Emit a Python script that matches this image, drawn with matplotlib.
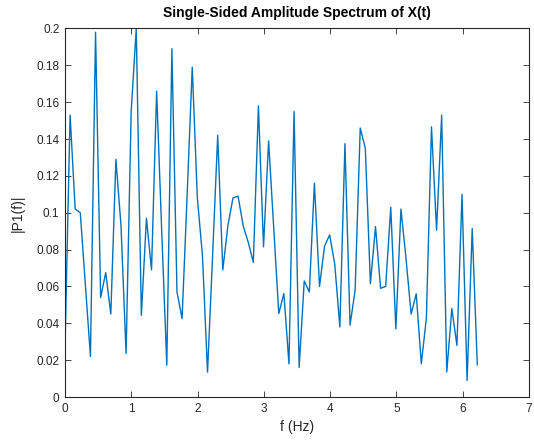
import numpy as np
import matplotlib
matplotlib.use("Agg")
import matplotlib.pyplot as plt

plt.rcParams['font.family'] = ['Liberation Sans', 'DejaVu Sans']

# Single-sided amplitude spectrum values |P1(f)|
P1 = [0.027, 0.153, 0.102, 0.100, 0.061, 0.022, 0.198, 0.054, 0.0675, 0.045,
      0.129, 0.093, 0.0236, 0.155, 0.200, 0.0443, 0.097, 0.069, 0.166, 0.090,
      0.0173, 0.189, 0.057, 0.0425, 0.110, 0.179, 0.108, 0.077, 0.0135, 0.077,
      0.142, 0.069, 0.093, 0.108, 0.109, 0.093, 0.084, 0.073, 0.158, 0.0815,
      0.139, 0.092, 0.0453, 0.0562, 0.018, 0.155, 0.016, 0.063, 0.057, 0.116,
      0.060, 0.082, 0.088, 0.072, 0.038, 0.1375, 0.039, 0.058, 0.146, 0.135,
      0.0615, 0.0925, 0.059, 0.060, 0.103, 0.037, 0.102, 0.075, 0.045, 0.056,
      0.018, 0.043, 0.1466, 0.0905, 0.153, 0.0136, 0.048, 0.028, 0.110, 0.009,
      0.0914, 0.0175]
f_max = 6.22
f = np.linspace(0, f_max, len(P1))

xticks = [0, 1, 2, 3, 4, 5, 6, 7]
yticks = [0, 0.02, 0.04, 0.06, 0.08, 0.1, 0.12, 0.14, 0.16, 0.18, 0.2]
yticklabels = ['0', '0.02', '0.04', '0.06', '0.08', '0.1', '0.12', '0.14', '0.16', '0.18', '0.2']

fig = plt.figure(figsize=(5.34, 4.48), dpi=100)
ax = fig.add_axes([65/534, 1-397/448, 464/534, (397-28.5)/448])
ax.plot(f, P1, color='#0072BD', lw=1.0)
ax.set_xlim(0, 7)
ax.set_ylim(0, 0.2)
ax.set_xticks(xticks)
ax.set_yticks(yticks)
ax.set_yticklabels(yticklabels)
gray = '#262626'
for s in ax.spines.values():
    s.set_color(gray)
    s.set_linewidth(0.8)
ax.tick_params(direction='in', top=True, right=True, length=4, width=0.6,
               colors=gray, labelsize=8.5, pad=4)
ax.set_title('Single-Sided Amplitude Spectrum of X(t)', fontsize=10,
             fontweight='bold', color='black', pad=8)
ax.set_xlabel('f (Hz)', fontsize=10, color=gray, labelpad=4)
ax.set_ylabel('|P1(f)|', fontsize=10, color=gray, labelpad=8)
fig.savefig('out.png', dpi=100, facecolor='white')
